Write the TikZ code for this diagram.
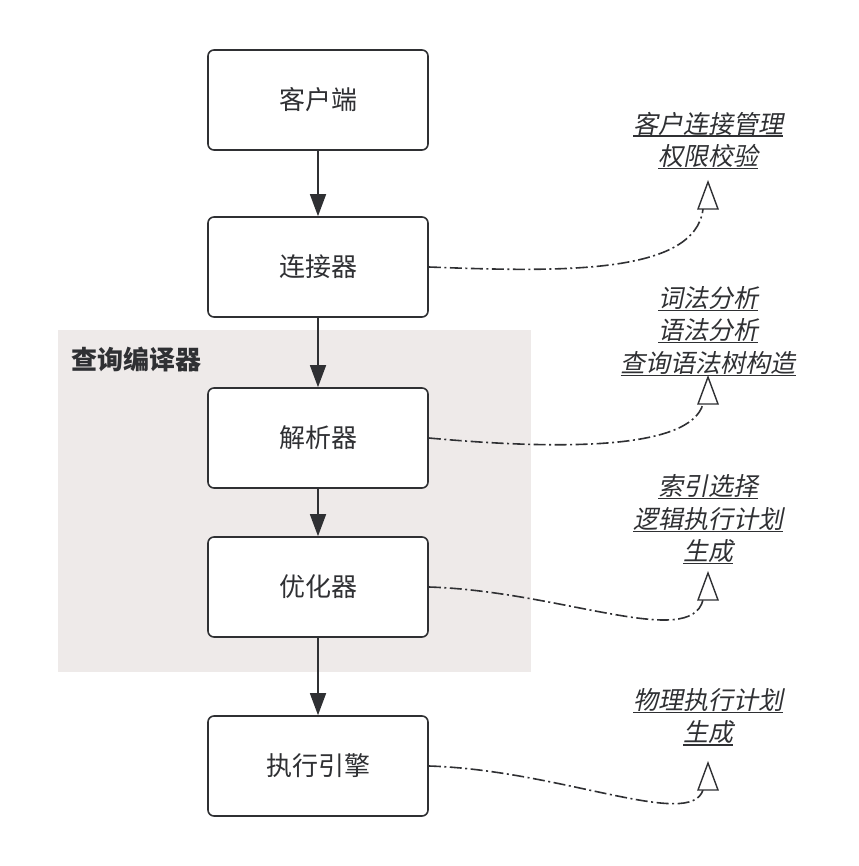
\documentclass[tikz,border=0pt]{standalone}
\usepackage{fontspec}
\usetikzlibrary{arrows.meta}
\newfontfamily\cjk{Noto Sans CJK SC}
\newfontfamily\cjkit[FakeSlant=0.2]{Noto Sans CJK SC}
\definecolor{ink}{HTML}{2F3033}
\definecolor{grp}{HTML}{EEEAE9}
\newcommand\ulin[1]{\setbox0\hbox{#1}\rlap{\color{ink}\rule[-3.6pt]{\wd0}{1.3pt}}\box0}
\tikzset{
  box/.style={draw=ink, line width=1.6pt, rounded corners=6pt, fill=white,
    minimum width=220pt, minimum height=100pt, inner sep=0pt,
    font=\cjk\fontsize{26}{30}\selectfont, text=ink},
  flow/.style={draw=ink, line width=1.5pt, -{Triangle[length=22pt,width=16pt]}},
  note/.style={align=center, inner sep=0pt, text=ink,
    font=\cjkit\fontsize{25}{32.5}\selectfont},
  link/.style={draw=ink, line width=1.6pt, dash pattern=on 12pt off 3.5pt on 2pt off 3.5pt},
  tri/.style={draw=ink, line width=1.4pt, line join=miter, fill=white},
  grouplbl/.style={anchor=west, inner sep=0pt, text=ink,
    font=\cjk\bfseries\fontsize{26}{30}\selectfont}
}
\begin{document}
\begin{tikzpicture}[x=1pt,y=-1pt]
\useasboundingbox (0,0) rectangle (858,866);
% group background
\fill[grp] (58,330) rectangle (531,672);
\node[grouplbl] (glbl) at (71,360) {查询编译器};
% boxes
\node[box] (b1) at (318,100) {客户端};
\node[box] (b2) at (318,267) {连接器};
\node[box] (b3) at (318,438) {解析器};
\node[box] (b4) at (318,587) {优化器};
\node[box] (b5) at (318,766) {执行引擎};
\draw[flow] (b1.south) -- (b2.north);
\draw[flow] (b2.south) -- (b3.north);
\draw[flow] (b3.south) -- (b4.north);
\draw[flow] (b4.south) -- (b5.north);
% notes
\node[note] (n1) at (708,140.5) {\ulin{客户连接管理}\\\ulin{权限校验}};
\node[note] (n2) at (708,331) {\ulin{词法分析}\\\ulin{语法分析}\\\ulin{查询语法树构造}};
\node[note] (n3) at (708,519.5) {\ulin{索引选择}\\\ulin{逻辑执行计划}\\\ulin{生成}};
\node[note] (n4) at (708,717) {\ulin{物理执行计划}\\\ulin{生成}};
% triangle heads (tip t, base centre e)
\coordinate (t1) at (708,182); \coordinate (e1) at (703,209);
\coordinate (t2) at (708,377); \coordinate (e2) at (703,404);
\coordinate (t3) at (708,573); \coordinate (e3) at (703,600);
\coordinate (t4) at (708,763); \coordinate (e4) at (703,790);
\draw[link] (b2.east) .. controls (560,272) and (695,275) .. (e1);
\draw[link] (b3.east) .. controls (560,450) and (690,450) .. (e2);
\draw[link] (b4.east) .. controls (560,591) and (690,650) .. (e3);
\draw[link] (b5.east) .. controls (560,770) and (690,830) .. (e4);
\foreach \i in {1,2,3,4}
  \draw[tri] (t\i) -- ++(-10,27) -- ++(20,0) -- cycle;
\end{tikzpicture}
\end{document}
